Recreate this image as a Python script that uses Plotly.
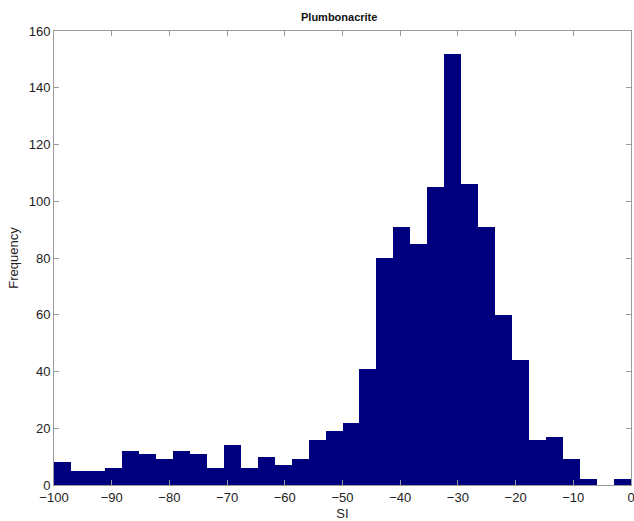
import plotly.graph_objects as go

title = "Plumbonacrite"
counts = [8, 5, 5, 6, 12, 11, 9, 12, 11, 6, 14, 6, 10, 7, 9, 16, 19, 22, 41, 80,
          91, 85, 105, 152, 106, 91, 60, 44, 16, 17, 9, 2, 0, 2]
x_min = -100
x_max = 0
n_bins = len(counts)
bin_w = (x_max - x_min) / n_bins
centers = [x_min + bin_w * (i + 0.5) for i in range(n_bins)]
x_ticks = list(range(-100, 1, 10))
y_ticks = list(range(0, 161, 20))

fig = go.Figure(go.Bar(x=centers, y=counts, width=bin_w,
                       marker=dict(color="#00007f", line=dict(width=0))))

font = dict(family="Liberation Sans, Arial, sans-serif", size=13, color="#222")
axis_common = dict(showgrid=False, zeroline=False, showline=True, linecolor="#9a9a9a",
                   linewidth=1, mirror="ticks", ticks="inside", ticklen=5,
                   tickcolor="#9a9a9a", tickfont=font, automargin=False,
                   ticklabeloverflow="allow")
fig.update_layout(
    width=634, height=521,
    margin=dict(l=54, r=3, t=31, b=36),
    paper_bgcolor="white", plot_bgcolor="white",
    title=dict(text="<b>" + title + "</b>", x=0.535, xanchor="center", y=0.967, yanchor="middle",
               font=dict(family="Liberation Sans, Arial, sans-serif", size=11, color="#111")),
    bargap=0, showlegend=False,
    xaxis=dict(range=[x_min, x_max], tickvals=x_ticks,
               title=dict(text="SI", font=font, standoff=5), **axis_common),
    yaxis=dict(range=[0, 160], tickvals=y_ticks,
               title=dict(text="Frequency", font=font, standoff=7), **axis_common),
)
fig.write_html("out.html", config={"displayModeBar": False},
               post_script="document.body.style.margin='0';document.body.style.overflow='hidden';")
